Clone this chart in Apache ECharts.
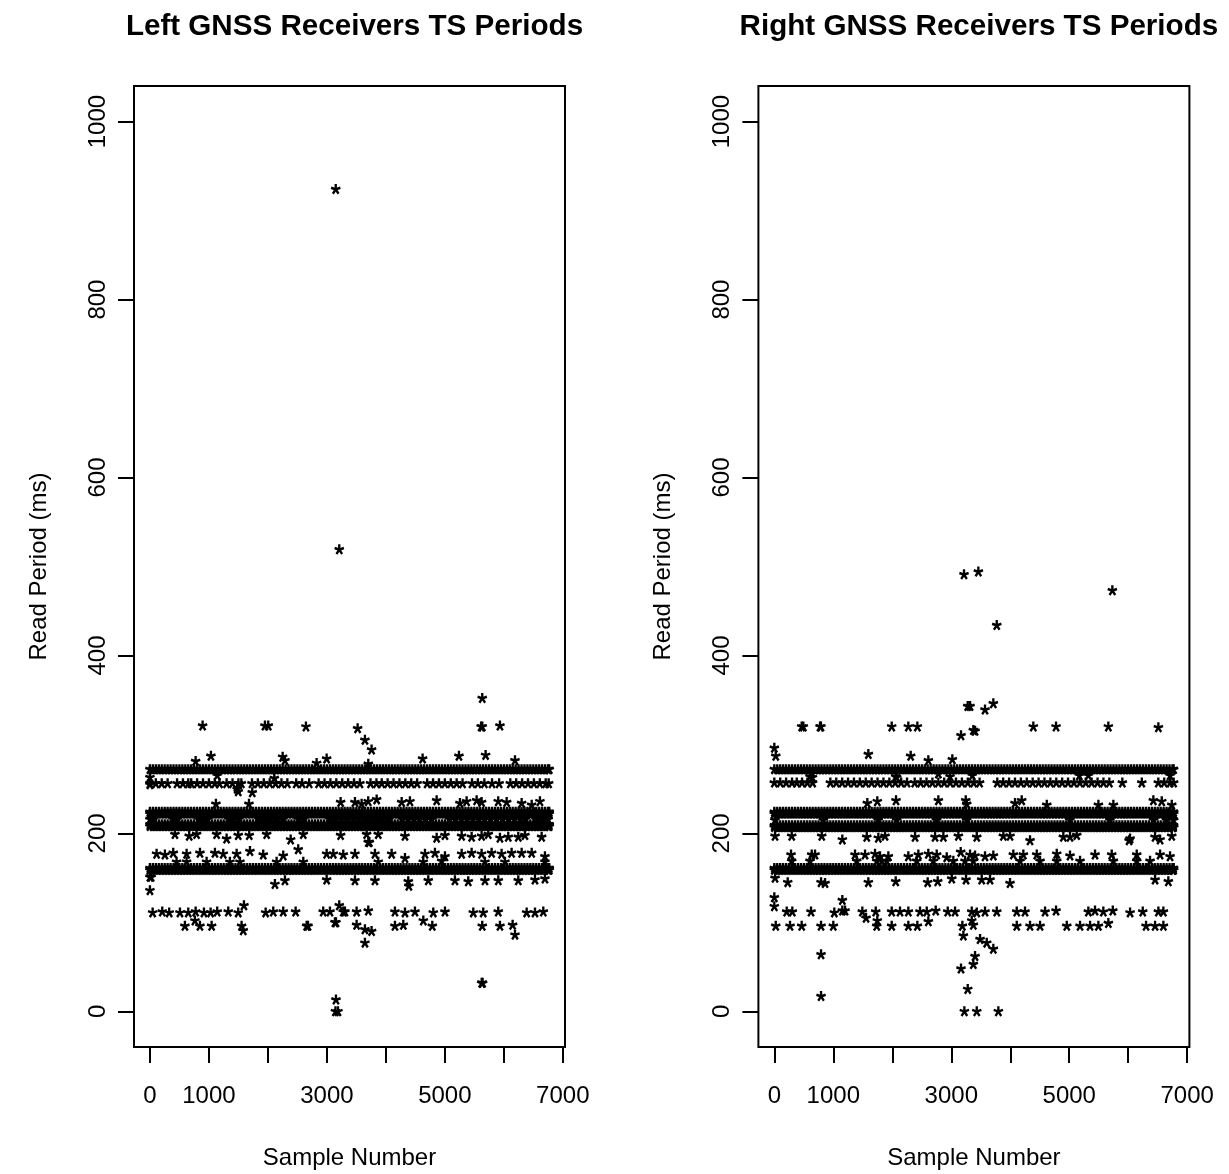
<!DOCTYPE html>
<html>
<head>
<meta charset="utf-8">
<script src="https://cdn.jsdelivr.net/npm/echarts@6/dist/echarts.min.js"></script>
<style>
  html, body { margin: 0; padding: 0; background: #ffffff; }
  #chart { width: 1229px; height: 1174px; }
</style>
</head>
<body>
<div id="chart"></div>
<script>
// ---------- data ----------
const panelTitles = ['Left GNSS Receivers TS Periods', 'Right GNSS Receivers TS Periods'];
const xAxisTitle = 'Sample Number';
const yAxisTitle = 'Read Period (ms)';
const xTickValues = [0, 1000, 2000, 3000, 4000, 5000, 6000, 7000];
const xLabelValues = [0, 1000, 3000, 5000, 7000];
const yTickValues = [0, 200, 400, 600, 800, 1000];

// sample numbers (thinned) where the dense bands are continuous
const bandSampleX = [0,50,100,150,200,250,300,350,400,450,500,550,600,650,700,750,800,850,900,950,1000,1050,1100,1150,1200,1250,1300,1350,1400,1450,1500,1550,1600,1650,1700,1750,1800,1850,1900,1950,2000,2050,2100,2150,2200,2250,2300,2350,2400,2450,2500,2550,2600,2650,2700,2750,2800,2850,2900,2950,3000,3050,3100,3150,3200,3250,3300,3350,3400,3450,3500,3550,3600,3650,3700,3750,3800,3850,3900,3950,4000,4050,4100,4150,4200,4250,4300,4350,4400,4450,4500,4550,4600,4650,4700,4750,4800,4850,4900,4950,5000,5050,5100,5150,5200,5250,5300,5350,5400,5450,5500,5550,5600,5650,5700,5750,5800,5850,5900,5950,6000,6050,6100,6150,6200,6250,6300,6350,6400,6450,6500,6550,6600,6650,6700,6750,6770];
// each dense band holds values spread over ~2 ms
const leftDenseLevels = [222, 224, 208, 210, 159, 161];
const rightDenseLevels = [222, 224, 207, 209, 159, 161];

// upper band (~272 ms), nearly continuous
const leftTopBandLevels = [272];
const rightTopBandLevels = [272];

// broken band (~256 ms)
const leftMidBandLevel = 256;
const leftMidBandX = [0,100,200,300,460,560,650,700,800,900,1000,1100,1180,1300,1400,1500,1550,1730,1830,1930,2030,2130,2230,2330,2480,2580,2700,2860,2960,3060,3160,3260,3360,3460,3560,3740,3840,3930,4030,4130,4230,4330,4430,4530,4700,4800,4900,5000,5100,5200,5300,5460,5560,5670,5800,5920,6110,6210,6310,6410,6510,6610,6710,6760];
const rightMidBandLevel = 257;
const rightMidBandX = [0,100,200,300,380,470,560,650,950,1050,1150,1250,1350,1450,1550,1650,1750,1850,1950,2050,2150,2250,2380,2480,2580,2680,2780,2880,2980,3080,3180,3280,3380,3480,3780,3880,3980,4080,4180,4280,4380,4480,4580,4680,4780,4880,4980,5080,5180,5280,5380,5480,5580,5680,5900,6230,6510,6610,6710,6770];

// points filling the gap between the 208 and 223 bands
const leftGapLevel = 216;
const leftGapX = [0,60,400,460,830,900,980,1340,1400,1500,1850,1950,2050,2150,2250,2520,2600,3050,3150,3250,3350,3450,3550,3650,3750,3850,3950,4050,4280,4380,4480,4580,4680,4780,5080,5180,5280,5380,5480,5580,5680,5780,5880,5980,6080,6180,6280,6360,6550,6650,6750];
const rightGapLevel = 215;
const rightGapX = [10,830,1760,2075,2750,3260,5010,5690,6430,6650,6770];

// scattered samples [sample number, period]
const leftPoints = [
  [3150,924],[3210,519],
  [5634,352],[5615,320],[5635,320],[5934,321],[893,321],[1950,321],[2006,321],[2645,320],[3521,318],[3645,305],[3758,294],
  [1034,287],[775,281],[2250,286],[2289,282],[2826,279],[2996,284],[4623,284],[5239,287],[5691,288],[6189,282],[3702,278],
  [0,263],[1141,265],[2108,262],[0,255],[1480,250],[1497,247],[1735,246],
  [1119,233],[1679,233],[3233,235],[3476,235],[3589,233],[3701,236],[3844,238],[4268,235],[4408,236],[4861,237],[5256,234],[5369,236],[5539,237],[5623,235],[5905,236],[6048,235],[6302,234],[6472,232],[6612,236],
  [424,199],[666,197],[791,199],[1131,199],[1300,194],[1497,198],[1684,198],[1979,199],[2386,193],[2600,199],[3233,198],[3674,199],[3702,190],[3720,190],[3871,199],[4324,197],[4861,195],[5002,198],[5285,197],[5454,196],[5623,197],[5736,199],[5934,195],[6075,196],[6245,196],[6358,198],[6641,196],
  [113,177],[254,176],[395,178],[622,177],[848,178],[1102,178],[1243,177],[1470,177],[1696,180],[1921,176],[2260,175],[2514,182],[2996,177],[3109,177],[3278,176],[3476,177],[3815,177],[4098,177],[4324,172],[4663,177],[4832,178],[5002,174],[5285,177],[5454,178],[5623,177],[5793,178],[5962,177],[6132,178],[6302,178],[6472,178],[6697,174],
  [452,168],[622,168],[961,168],[1356,168],[1526,168],[2148,168],[2600,168],[3871,168],[4634,168],[4946,169],[5680,168],[6019,168],[6697,168],
  [0,151],[20,151],[0,136],[2119,143],[2289,147],[2996,148],[3476,147],[3815,147],[4380,146],[4390,141],[4719,147],[5171,147],[5397,146],[5680,147],[5906,147],[6245,147],[6528,148],[6697,149],
  [46,111],[209,112],[327,111],[509,111],[650,111],[775,112],[916,111],[1029,111],[1141,112],[1328,112],[1497,111],[1594,119],[1962,111],[2091,112],[2260,112],[2470,112],[2938,112],[3052,112],[3210,119],[3278,112],[3306,112],[3504,112],[3702,113],[4154,112],[4324,111],[4493,112],[4804,111],[5002,112],[5482,111],[5651,111],[5905,112],[6387,111],[6528,111],[6669,112],
  [593,96],[848,96],[1046,96],[1554,96],[1582,91],[2657,96],[2680,96],[763,102],[3137,100],[3154,100],[3504,97],[3645,92],[3758,90],[4154,96],[4296,97],[4635,102],[4787,96],[5634,96],[5934,96],[6149,97],[6189,86],[3645,77],
  [3154,13],[3145,0],[3188,0],[5625,32],[5640,32]
];
const rightPoints = [
  [3216,491],[3459,494],[5731,473],[3771,434],[3279,343],[3318,343],[3572,339],[3713,346],[3165,310],[3374,316],[3403,315],
  [464,320],[492,320],[775,320],[790,320],[1990,320],[2272,320],[2425,320],[4391,320],[4776,320],[5663,320],[6511,319],
  [0,296],[24,287],[1594,289],[2312,287],[2611,282],[3018,283],
  [605,264],[645,263],[2058,264],[2075,263],[2781,267],[2979,264],[3357,265],[5171,265],[5324,265],[6709,265],
  [1577,234],[1746,236],[2063,237],[2781,237],[3262,233],[3245,237],[4081,234],[4194,237],[4619,232],[5494,232],[5748,232],[6426,237],[6738,232],[6568,236],
  [12,197],[295,197],[804,197],[1153,193],[1567,196],[1763,195],[1877,197],[2386,196],[2725,196],[2866,196],[3120,197],[3432,196],[3883,197],[3996,197],[4335,192],[4900,196],[5013,196],[5127,198],[6014,192],[6031,194],[6455,196],[6738,197],[6540,193],
  [283,176],[634,176],[690,176],[1368,176],[1538,176],[1707,177],[1792,174],[1933,174],[2272,174],[2442,176],[2611,177],[2753,176],[2923,173],[3160,179],[3318,176],[3403,175],[3572,174],[3713,175],[4052,176],[4222,176],[4449,176],[4788,177],[5013,175],[5437,176],[5720,176],[6144,176],[6540,176],[6709,174],
  [295,169],[605,169],[1397,169],[1736,169],[1821,169],[1906,169],[2414,169],[2696,169],[3035,169],[3233,169],[3374,169],[4166,169],[4505,169],[4788,169],[5183,169],[5748,169],[6144,169],[6370,169],
  [12,150],[227,145],[792,145],[860,144],[1594,145],[2058,146],[2600,145],[2770,146],[3008,149],[3250,148],[3516,148],[3657,148],[3996,144],[6455,148],[6680,146],
  [0,128],[0,118],[1153,125],
  [210,112],[305,112],[622,112],[1017,111],[1153,113],[1199,113],[1492,112],[1719,112],[1990,112],[2131,112],[2272,112],[2470,112],[2584,112],[2736,113],[2940,112],[3064,112],[3347,112],[3432,111],[3572,112],[3771,112],[4110,112],[4250,112],[4590,112],[4776,113],[5324,112],[5437,113],[5578,112],[5738,113],[6031,111],[6246,112],[6511,112],[6596,112],
  [24,96],[266,96],[464,96],[792,96],[1000,96],[1736,96],[1990,96],[2272,96],[2425,96],[2611,101],[3188,96],[3205,85],[1555,105],[1746,102],[3347,102],[3374,97],[4110,96],[4335,96],[4505,96],[4958,96],[5183,96],[5353,96],[5494,96],[5663,99],[6302,96],[6455,96],[6596,96],
  [792,64],[792,17],[3165,48],[3374,53],[3279,25],[3222,0],[3432,0],[3798,0],[3488,81],[3601,77],[3713,70],[3403,62]
];

// ---------- build the chart ----------
const FONT = "'Liberation Sans', Arial, Helvetica, sans-serif";
const STAR = 'path://M124,105L124,0L76,0L76,105Z' +
  'M102.7,124.4L202.5,91.9L187.7,46.3L87.8,78.7Z' +
  'M77.6,110.1L139.4,195L178.2,166.8L116.5,81.8Z' +
  'M83.5,81.8L21.8,166.8L60.6,195L122.4,110.1Z' +
  'M112.2,78.7L12.3,46.3L-2.5,91.9L97.3,124.4Z';

function levelPoints(xs, level) { return xs.map(function (x) { return [x, level]; }); }

function panelData(denseLevels, topLevels, midX, midLevel, gapX, gapLevel, points) {
  let out = [];
  denseLevels.concat(topLevels).forEach(function (l) { out = out.concat(levelPoints(bandSampleX, l)); });
  out = out.concat(levelPoints(midX, midLevel));
  out = out.concat(levelPoints(gapX, gapLevel));
  return out.concat(points);
}

const leftData = panelData(leftDenseLevels, leftTopBandLevels, leftMidBandX, leftMidBandLevel, leftGapX, leftGapLevel, leftPoints);
const rightData = panelData(rightDenseLevels, rightTopBandLevels, rightMidBandX, rightMidBandLevel, rightGapX, rightGapLevel, rightPoints);

const gridLefts = [134, 758.4];
const GRID_W = 431, GRID_TOP = 86, GRID_H = 961;
function plain(v) { return String(v); }

function xAxisFor(i) {
  return {
    gridIndex: i, type: 'value', min: -270, max: 7037,
    axisLine: { show: false, onZero: false },
    splitLine: { show: false },
    axisTick: { show: true, length: 16, customValues: xTickValues, lineStyle: { color: '#000', width: 2 } },
    axisLabel: { customValues: xLabelValues, formatter: plain, margin: 37, fontSize: 24, color: '#000', fontFamily: FONT },
    name: xAxisTitle, nameLocation: 'middle', nameGap: 99,
    nameTextStyle: { fontSize: 24, color: '#000', fontFamily: FONT }
  };
}
function yAxisFor(i) {
  return {
    gridIndex: i, type: 'value', min: -40, max: 1040,
    axisLine: { show: false, onZero: false },
    splitLine: { show: false },
    axisTick: { show: true, length: 16, customValues: yTickValues, lineStyle: { color: '#000', width: 2 } },
    axisLabel: { customValues: yTickValues, formatter: plain, rotate: 90, margin: 24, fontSize: 24, color: '#000', fontFamily: FONT },
    name: yAxisTitle, nameLocation: 'middle', nameGap: 83, nameRotate: 90,
    nameTextStyle: { fontSize: 24, color: '#000', fontFamily: FONT }
  };
}

const chart = echarts.init(document.getElementById('chart'), null, { renderer: 'canvas' });
chart.setOption({
  backgroundColor: '#ffffff',
  animation: false,
  title: panelTitles.map(function (t, i) {
    return {
      text: t, left: gridLefts[i] + GRID_W / 2, top: 7, textAlign: 'center',
      textStyle: { fontSize: 29.6, fontWeight: 'bold', color: '#000', fontFamily: FONT }
    };
  }),
  grid: gridLefts.map(function (l) {
    return {
      left: l, top: GRID_TOP, width: GRID_W, height: GRID_H,
      outerBoundsMode: 'none', containLabel: false,
      show: true, borderColor: '#000', borderWidth: 2, backgroundColor: 'transparent'
    };
  }),
  xAxis: [xAxisFor(0), xAxisFor(1)],
  yAxis: [yAxisFor(0), yAxisFor(1)],
  series: [leftData, rightData].map(function (d, i) {
    return {
      type: 'scatter', xAxisIndex: i, yAxisIndex: i, data: d,
      symbol: STAR, symbolSize: [10, 10.5], symbolKeepAspect: false,
      itemStyle: { color: '#000', opacity: 1 },
      emphasis: { disabled: true }, silent: true, large: false
    };
  })
});
</script>
</body>
</html>
